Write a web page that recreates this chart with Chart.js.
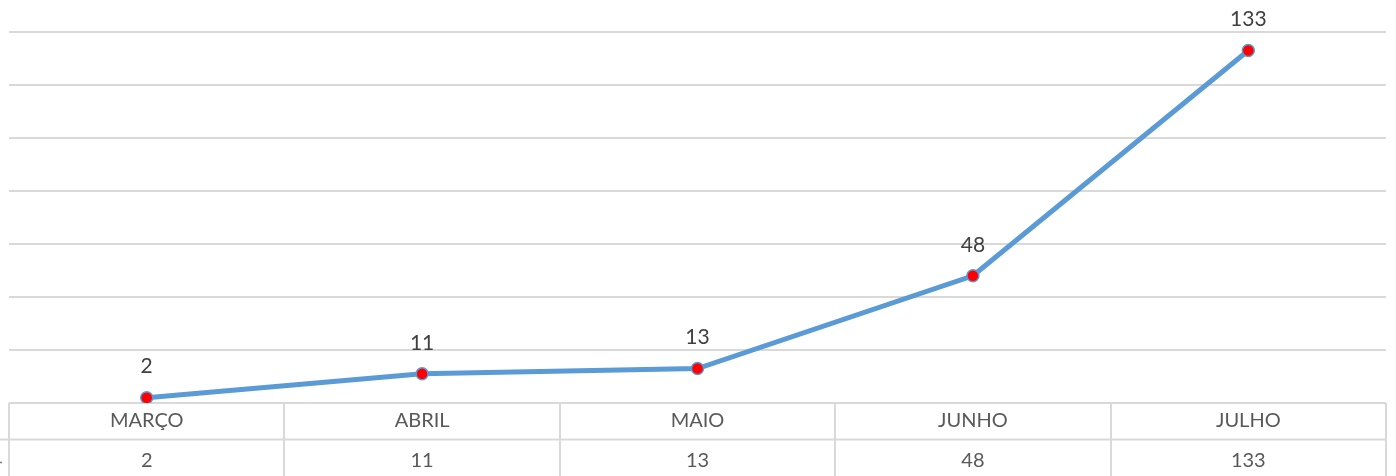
<!DOCTYPE html>
<html>
<head>
<meta charset="utf-8">
<script src="https://cdn.jsdelivr.net/npm/chart.js@4/dist/chart.umd.min.js"></script>
<style>
html,body{margin:0;padding:0;background:#fff;}
#wrap{width:1396px;height:476px;position:relative;}
</style>
</head>
<body>
<div id="wrap"><canvas id="c" width="1396" height="476"></canvas></div>
<script>
const categories = ["MARÇO", "ABRIL", "MAIO", "JUNHO", "JULHO"];
const values = [2, 11, 13, 48, 133];
const yMin = 0, yMax = 140, yStep = 20;

const FONT = "Lato, 'Open Sans', sans-serif";
const TEXT = "#595959";
const GRID = "#d9d9d9";

const tablePlugin = {
  id: 'tablePlugin',
  afterDraw(chart) {
    const ctx = chart.ctx;
    const x = chart.scales.x;
    const area = chart.chartArea;
    const n = categories.length;
    const half = (x.getPixelForValue(1) - x.getPixelForValue(0)) / 2;
    const top = area.bottom;
    const sep = top + 36.5;
    const bottom = chart.height;
    ctx.save();
    ctx.strokeStyle = GRID;
    ctx.lineWidth = 2;
    for (let i = 0; i <= n; i++) {
      const px = Math.round(i < n ? x.getPixelForValue(i) - half : x.getPixelForValue(n - 1) + half);
      ctx.beginPath();
      ctx.moveTo(px, top);
      ctx.lineTo(px, bottom);
      ctx.stroke();
    }
    ctx.beginPath();
    ctx.moveTo(0, sep);
    ctx.lineTo(x.getPixelForValue(n - 1) + half, sep);
    ctx.stroke();
    ctx.strokeStyle = "#7f7f7f";
    ctx.lineWidth = 1.5;
    ctx.beginPath();
    ctx.moveTo(0, 462.5);
    ctx.lineTo(2, 462.5);
    ctx.stroke();
    ctx.fillStyle = TEXT;
    ctx.font = "20px " + FONT;
    ctx.textAlign = "center";
    ctx.textBaseline = "middle";
    for (let i = 0; i < n; i++) {
      const cx = x.getPixelForValue(i);
      ctx.fillText(categories[i], cx, top + 18);
      ctx.fillText(String(values[i]), cx, sep + 21);
    }
    const meta = chart.getDatasetMeta(0);
    ctx.font = "21px " + FONT;
    ctx.fillStyle = "#404040";
    meta.data.forEach((pt, i) => {
      ctx.fillText(String(values[i]), pt.x, pt.y - 31);
    });
    ctx.restore();
  }
};

new Chart(document.getElementById('c'), {
  type: 'line',
  data: {
    labels: categories,
    datasets: [{
      data: values,
      borderColor: "#5b9bd5",
      borderWidth: 5,
      pointRadius: 6,
      pointBackgroundColor: "#ff0000",
      pointBorderColor: "#5b9bd5",
      pointBorderWidth: 1.5,
      tension: 0,
      fill: false
    }]
  },
  options: {
    responsive: false,
    animation: false,
    events: [],
    layout: { padding: { left: 9, right: 10, top: 32, bottom: 73 } },
    plugins: { legend: { display: false }, tooltip: { enabled: false } },
    scales: {
      x: { display: false, offset: true },
      y: {
        min: yMin, max: yMax,
        ticks: { display: false, stepSize: yStep },
        grid: { color: GRID, lineWidth: 2, drawTicks: false },
        border: { display: false }
      }
    }
  },
  plugins: [tablePlugin]
});
</script>
</body>
</html>
